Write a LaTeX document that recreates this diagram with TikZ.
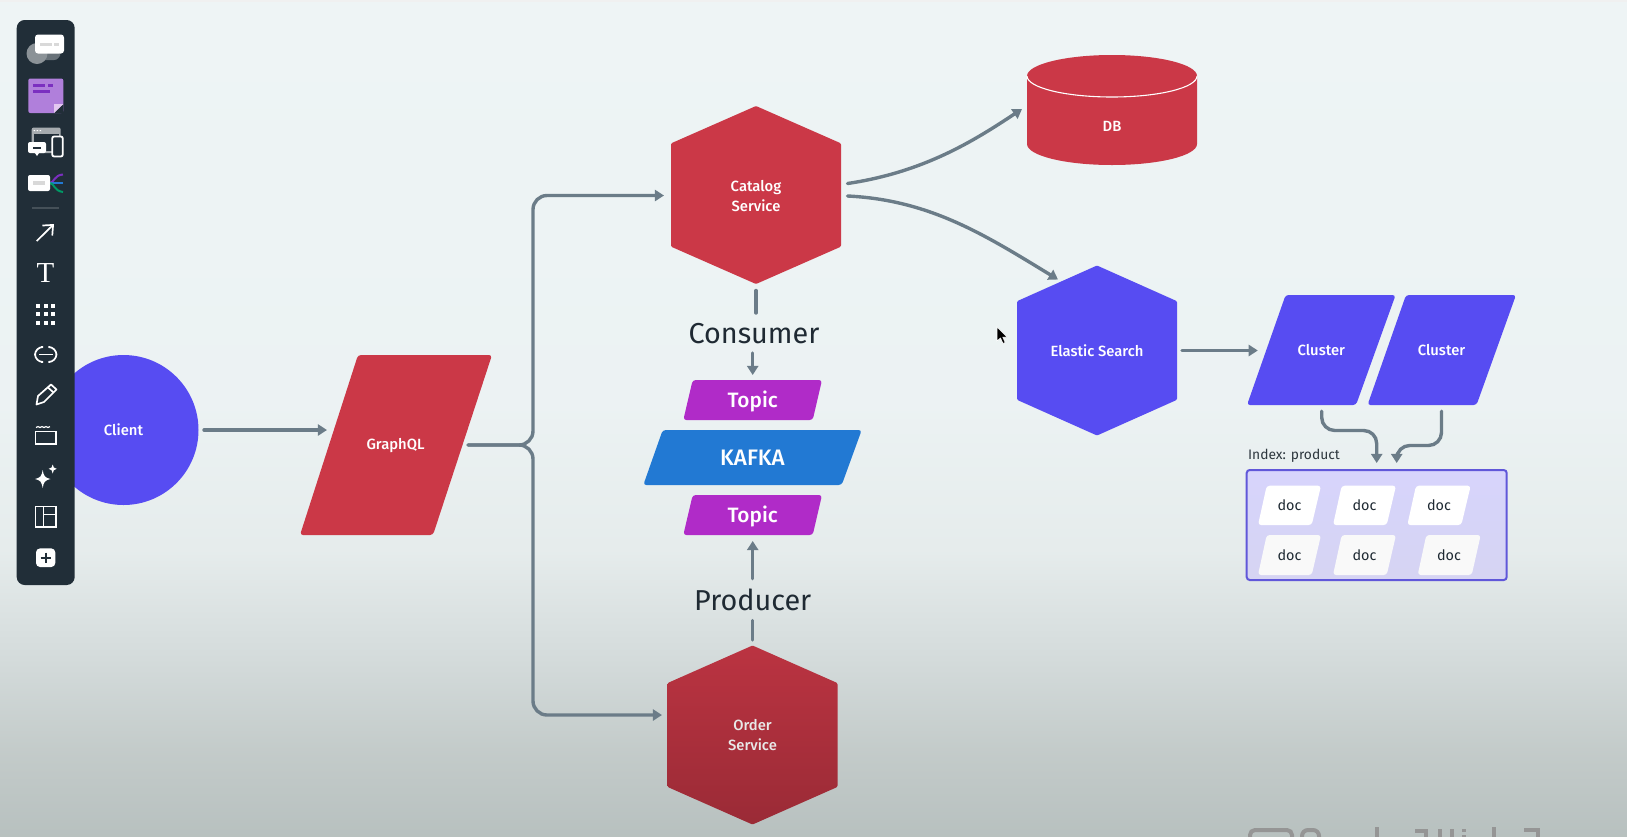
\documentclass[tikz,border=0pt]{standalone}
\usepackage{fontspec}
\setmainfont{Fira Sans}[BoldFont={Fira Sans Medium}]
\newfontfamily\tfont{Liberation Serif}
\usetikzlibrary{arrows.meta,calc}
\definecolor{redc}{HTML}{CB3847}
\definecolor{violetc}{HTML}{574CF2}
\definecolor{magc}{HTML}{B02BC8}
\definecolor{kafkac}{HTML}{2279D3}
\definecolor{connc}{HTML}{6B7C88}
\definecolor{barc}{HTML}{212E38}
\definecolor{inkc}{HTML}{1F2A33}
\pgfdeclareverticalshading{bgshade}{100bp}{
 rgb(0bp)=(0.72,0.755,0.75);
 rgb(25bp)=(0.72,0.755,0.75);
 rgb(30bp)=(0.765,0.795,0.79);
 rgb(36bp)=(0.835,0.863,0.863);
 rgb(42bp)=(0.90,0.925,0.925);
 rgb(51bp)=(0.925,0.95,0.953);
 rgb(75bp)=(0.933,0.957,0.961);
 rgb(100bp)=(0.933,0.957,0.961)}
\newcommand{\pgram}[7]{\fill[rounded corners=1.5pt,#1] (#2,#6) -- (#3,#6) -- (#4,#7) -- (#5,#7) -- cycle;}
\newcommand{\hexa}[5]{\path[#1,shift={(#2,#3)}] (0,-#5) -- (#4,-0.58*#5) -- (#4,0.58*#5) -- (0,#5) -- (-#4,0.58*#5) -- (-#4,-0.58*#5) -- cycle;}
\tikzset{
  anchorbox/.style={inner sep=0pt,outer sep=0pt,align=center,text=white,font=\fontsize{7.4}{10}\selectfont\bfseries},
  conn/.style={draw=connc,line width=1.7pt,line cap=round,-{Triangle[length=4.6pt,width=5.6pt]}},
  plainconn/.style={draw=connc,line width=1.7pt,line cap=round},
  bigtxt/.style={inner sep=0pt,outer sep=0pt,text=inkc,font=\fontsize{14.4}{16}\selectfont},
  midtxt/.style={inner sep=0pt,outer sep=0pt,text=white,font=\fontsize{10.4}{12}\selectfont\bfseries},
  doctxt/.style={inner sep=0pt,outer sep=0pt,text=inkc,font=\fontsize{7.2}{9}\selectfont},
  ico/.style={draw=white,line width=0.85pt},
  wm/.style={draw=black!38!gray!60,line width=2pt,line cap=butt}
}
\begin{document}
\begin{tikzpicture}[x=0.5pt,y=-0.5pt]
\useasboundingbox (0,0) rectangle (1627,836);
% background
\shade[shading=bgshade] (0,0) rectangle (1627,836);
\fill[white!88!gray] (0,0) rectangle (1627,1.8);
% watermark
\draw[wm,rounded corners=2.5pt] (1250,842) |- (1292,830) -- (1292,842);
\draw[wm,rounded corners=3pt] (1302,842) |- (1319,830) -- (1319,842);
\draw[wm] (1376.5,827) -- (1376.5,842);
\draw[wm] (1415,831) -- (1426,831) -- (1426,842);
\draw[wm] (1440,829) -- (1440,842);
\draw[wm] (1452,829) -- (1452,842);
\draw[wm] (1464,829) -- (1464,832);
\draw[wm] (1464,835) -- (1464,842);
\draw[wm] (1494,827) -- (1494,842);
\draw[wm] (1524,830) -- (1538,830) -- (1538,842);
% client
\node[circle,fill=violetc,minimum size=75pt,anchorbox] (client) at (123.5,430) {Client};
% graphql
\pgram{redc}{358}{492}{433}{300}{355}{535}
\node[anchorbox,minimum width=96pt,minimum height=90pt] (graphql) at (395.5,446) {GraphQL};
% catalog
\hexa{fill=redc,rounded corners=0.6pt}{756}{195}{85}{89}
\node[anchorbox,minimum width=85pt,minimum height=89pt] (catalog) at (756,196) {Catalog\\Service};
% order
\hexa{top color=redc!92!black,bottom color=redc!76!black,rounded corners=0.6pt}{752.5}{735}{85}{89.5}
\node[anchorbox,minimum width=85pt,minimum height=89.5pt,text=white!82!gray] (order) at (752.5,735) {Order\\Service};
% elastic
\hexa{fill=violetc,rounded corners=0.6pt}{1097}{350.5}{80}{85}
\node[anchorbox,minimum width=80pt,minimum height=85pt] (elastic) at (1097,350.5) {Elastic Search};
% db
\fill[redc] (1027,76) -- (1027,144) .. controls (1027,155.6) and (1065,165) .. (1112,165) .. controls (1159,165) and (1197,155.6) .. (1197,144) -- (1197,76) .. controls (1197,64.4) and (1159,55) .. (1112,55) .. controls (1065,55) and (1027,64.4) .. (1027,76) -- cycle;
\draw[white,line width=0.55pt] (1027,76) .. controls (1027,87.6) and (1065,97) .. (1112,97) .. controls (1159,97) and (1197,87.6) .. (1197,76);
\node[anchorbox,minimum width=85pt,minimum height=55pt] (db) at (1112,110) {};
\node[anchorbox] (dblabel) at (1112,126) {DB};
% clusters
\pgram{violetc}{1285.6}{1395.6}{1356}{1247}{295}{405}
\node[anchorbox,minimum width=74.5pt,minimum height=55pt] (cluster1) at (1321.3,350.5) {Cluster};
\pgram{violetc}{1406}{1516}{1476.5}{1367.5}{295}{405}
\node[anchorbox,minimum width=74.5pt,minimum height=55pt] (cluster2) at (1441.5,350.5) {Cluster};
% kafka column
\pgram{magc}{692.7}{822}{812.7}{683.3}{380}{420}
\node[midtxt,minimum width=69.5pt,minimum height=20pt] (topic1) at (752.7,401.5) {Topic};
\pgram{kafkac}{662.7}{861.7}{841.7}{643.3}{430}{485}
\node[midtxt,minimum width=109pt,minimum height=27pt,font=\fontsize{11.2}{12}\selectfont\bfseries] (kafka) at (752.5,458) {KAFKA};
\pgram{magc}{692.7}{822}{812.7}{683.3}{495}{535}
\node[midtxt,minimum width=69.5pt,minimum height=20pt] (topic2) at (752.7,516.5) {Topic};
\node[bigtxt] (consumer) at (754,334) {Consumer};
\node[bigtxt] (producer) at (752.7,599.5) {Producer};
% index box
\shade[top color=violetc!24!white,bottom color=violetc!20!white!92!gray,rounded corners=1.5pt] (1246.7,470) rectangle (1506.7,580);
\draw[draw=violetc!78!gray,line width=1pt,rounded corners=1.5pt] (1246.7,470) rectangle (1506.7,580);
\node[inner sep=0pt,outer sep=0pt,minimum width=130pt,minimum height=55pt] (box) at (1376.7,525) {};
\node[inner sep=0pt,anchor=west,text=inkc!85!gray,font=\fontsize{6.9}{9}\selectfont] (indexlabel) at (1247.7,456) {Index: product};
\pgram{white}{1266.7}{1321}{1311.7}{1258}{485.7}{525}
\node[doctxt] (doc1) at (1289.5,505.5) {doc};
\pgram{white}{1341.7}{1396}{1386.7}{1333}{485.7}{525}
\node[doctxt] (doc2) at (1364.5,505.5) {doc};
\pgram{white}{1416}{1470.7}{1461.3}{1407.3}{485.7}{525}
\node[doctxt] (doc3) at (1439,505.5) {doc};
\pgram{white!95!gray}{1266.7}{1321}{1311.7}{1258}{535}{575}
\node[doctxt] (doc4) at (1289.5,555) {doc};
\pgram{white!95!gray}{1341.7}{1396}{1386.7}{1333}{535}{575}
\node[doctxt] (doc5) at (1364.5,555) {doc};
\pgram{white!95!gray}{1426.3}{1480.7}{1471.7}{1417.7}{535}{575}
\node[doctxt] (doc6) at (1449,555) {doc};
% connectors
\draw[conn] ([shift={(5.5,0)}]client.east) -- ([shift={(27.5,-16)}]graphql.west);
\coordinate (bus) at (533,445);
\draw[conn,rounded corners=7pt] ([shift={(-23.5,-1)}]graphql.east) -- (bus) |- ([shift={(-7,-0.5)}]catalog.west);
\draw[conn,rounded corners=7pt] ([shift={(-23.5,-1)}]graphql.east) -- (bus) |- ([shift={(-5.5,-20)}]order.west);
\draw[conn] ([shift={(6.5,-12.5)}]catalog.east) .. controls (925,172) and (975,140) .. ([shift={(-5,-1)}]db.west);
\draw[conn] ([shift={(6.5,0)}]catalog.east) .. controls (930,200) and (985,235) .. ([shift={(-39,14)}]elastic.north);
\draw[conn] ([shift={(5,0)}]elastic.east) -- ([shift={(11,0)}]cluster1.west);
\draw[conn,rounded corners=6.5pt] ([shift={(0.4,5.7)}]cluster1.south) -- ([shift={(0.4,25)}]cluster1.south) -| ([shift={(0,-7)}]box.north);
\draw[conn,rounded corners=6.5pt] ([shift={(0,5.7)}]cluster2.south) -- ([shift={(0,40)}]cluster2.south) -| ([shift={(20,-7)}]box.north);
\draw[plainconn] ([shift={(0,5.5)}]catalog.south) -- ([shift={(0,28)}]catalog.south);
\coordinate (consumerbottom) at (752.7,353);
\draw[conn] (consumerbottom) -- ([shift={(0,-6.5)}]topic1.north);
\coordinate (producertop) at (752.7,578.7);
\draw[conn] (producertop) -- ([shift={(0,4.5)}]topic2.south);
\draw[plainconn] ([shift={(0,-25)}]order.north) -- ([shift={(0,-5.5)}]order.north);
% mouse pointer
\fill[black,draw=white,line width=0.3pt] (997,327) -- (997,341) -- (1000.5,338) -- (1003,343.5) -- (1005.2,342.5) -- (1002.8,337.2) -- (1007,337) -- cycle;
% toolbar
\fill[barc,rounded corners=4pt] (16.7,20) rectangle (74.7,585);
% icon 1
\fill[white!32!barc,rounded corners=3pt] (36,50) rectangle (60,60);
\fill[white!48!barc] (37,53.5) circle[x radius=10.5,y radius=10.5];
\fill[white,rounded corners=1.5pt] (35,34.5) rectangle (64,53.5);
\fill[white!70!gray] (40,42.5) rectangle (52,46);
\fill[white!70!gray] (54,42.5) rectangle (59,46);
% icon 2
\definecolor{stickyc}{HTML}{B07FDB}
\definecolor{stickyd}{HTML}{7B2FC0}
\definecolor{stickyf}{HTML}{E3C8F0}
\fill[rounded corners=1pt,fill=stickyc] (28.3,78.5) rectangle (63.3,113);
\fill[barc] (63.3,104) -- (63.3,113.2) -- (54,113.2) -- cycle;
\fill[stickyf] (63.3,104) -- (54,113) -- (54,104) -- cycle;
\fill[stickyd] (33,83.5) rectangle (45,86.5);
\fill[stickyd] (47.5,83.5) rectangle (53,86.5);
\fill[stickyd] (33,90) rectangle (50,93);
% icon 3
\fill[white!60!barc,rounded corners=1pt] (31.7,127.5) rectangle (60.7,153);
\fill[barc] (34,134) rectangle (58.5,151);
\fill[white] (33.5,130) rectangle +(1.5,1.2) (36.5,130) rectangle +(1.5,1.2) (39.5,130) rectangle +(1.5,1.2);
\draw[white,line width=0.9pt,fill=barc,rounded corners=1pt] (52.2,136.5) rectangle (62.8,156.5);
\fill[white,rounded corners=1pt] (28,142) rectangle (46,153);
\fill[white] (35,153) -- (39,153) -- (37,156) -- cycle;
\fill[barc] (33,146.5) rectangle (41,148.5);
% icon 4
\draw[stickyd,line width=1pt] (50,183) .. controls (54,183) and (54,175) .. (63,174.5);
\draw[kafkac,line width=1pt] (50,183) -- (63,183);
\draw[teal!80!green,line width=1pt] (50,183) .. controls (54,183) and (54,191) .. (63,192);
\fill[white,rounded corners=1pt] (28,175) rectangle (50,191);
\fill[white!70!gray] (33,181) rectangle (45,185);
% separator
\draw[white!16!barc,line width=0.6pt] (32,208) -- (59,208);
% arrow
\draw[ico,-{Straight Barb[length=4pt,width=7pt]}] (36.7,241) -- (54,224);
% T
\node[inner sep=0pt,text=white,font=\tfont\fontsize{14.5}{16}\selectfont] (ticon) at (45.6,273) {T};
% grid
\foreach \gx in {38,45.6,53.3}{\foreach \gy in {306,314.3,322.6}{\fill[white] (\gx-2,\gy-2) rectangle (\gx+2,\gy+2);}}
% link
\draw[ico,rounded corners=4pt] (41,347) -- (35,347) -- (35,362) -- (41,362);
\draw[ico,rounded corners=4pt] (50,347) -- (56.5,347) -- (56.5,362) -- (50,362);
\draw[ico] (39,354.5) -- (52.5,354.5);
% pencil
\draw[ico,line join=round] (36.5,404.5) -- (38,396) -- (51,384.5) -- (56.5,389.5) -- (44,402) -- cycle;
\draw[ico] (48,387.5) -- (53.5,392.5);
% frame
\draw[ico] (35.5,431.5) rectangle (56.2,443.8);
\draw[ico,line width=0.6pt] (36,427.5) -- (38,426.6) -- (40,427.5) -- (42,426.6) -- (44,427.5) -- (46,426.6) -- (48,427.5) -- (50,426.6);
% sparkle
\fill[white] (42.7,470) .. controls (43.6,476) and (45,477.8) .. (50.5,479) .. controls (45,480.2) and (43.6,482) .. (42.7,488) .. controls (41.8,482) and (40.4,480.2) .. (35,479) .. controls (40.4,477.8) and (41.8,476) .. (42.7,470) -- cycle;
\fill[white] (52.7,464.5) .. controls (53.2,467.5) and (53.8,468) .. (56.7,468.8) .. controls (53.8,469.6) and (53.2,470.2) .. (52.7,473.5) .. controls (52.2,470.2) and (51.6,469.6) .. (48.7,468.8) .. controls (51.6,468) and (52.2,467.5) .. (52.7,464.5) -- cycle;
% layout
\draw[ico] (35.5,506.5) rectangle (56.2,527);
\draw[ico] (43.5,506.5) -- (43.5,527);
\draw[ico] (43.5,514.5) -- (56.2,514.5);
% plus
\fill[white,rounded corners=2pt] (36,548.4) rectangle (55.3,567);
\draw[barc,line width=1pt] (45.6,552.5) -- (45.6,563);
\draw[barc,line width=1pt] (40.5,557.7) -- (50.7,557.7);
\end{tikzpicture}
\end{document}
